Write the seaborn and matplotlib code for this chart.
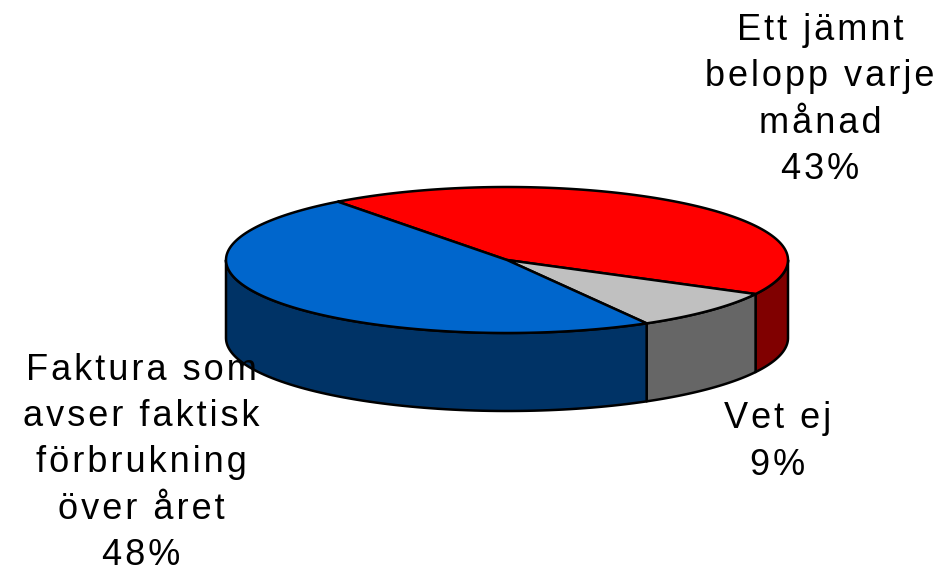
import numpy as np
import matplotlib
matplotlib.use("Agg")
import matplotlib.pyplot as plt
import seaborn as sns

labels = ["Ett jämnt\nbelopp varje\nmånad\n43%", "Vet ej\n9%", "Faktura som\navser faktisk\nförbrukning\növer året\n48%"]
shares = [43, 9, 48]
top_colors = ["#FF0000", "#C0C0C0", "#0066CC"]
side_colors = ["#800000", "#666666", "#003366"]

sns.set_theme(style="white")
plt.rcParams["font.family"] = ["Liberation Sans", "DejaVu Sans"]

fig, ax = plt.subplots(figsize=(9.41, 5.73), dpi=100)
ax.set_position([0, 0, 1, 1])
ax.set_xlim(0, 941)
ax.set_ylim(573, 0)
ax.axis("off")

# ellipse of the top face, in pixels
cx, cy = 507, 260
rx, ry = 281, 73
depth = 78
start = 127  # first slice starts here and goes clockwise


def ellipse(a):
    r = np.radians(a)
    return cx + rx * np.cos(r), cy - ry * np.sin(r)


def tracked(s):
    # the original has wide letter spacing, hair spaces get close to it
    return "\n".join("\u200a".join(line) for line in s.split("\n"))


angles = start - np.cumsum([0] + shares) * 3.6

# side walls first, only the front half of the rim shows
for i in range(len(shares)):
    hi, lo = angles[i], angles[i + 1]
    for shift in (0, -360):
        a0 = max(lo + shift, -180)
        a1 = min(hi + shift, 0)
        if a1 <= a0:
            continue
        t = np.linspace(a0, a1, 80)
        x, y = ellipse(t)
        xs = np.r_[x, x[::-1]]
        ys = np.r_[y, y[::-1] + depth]
        ax.fill(xs, ys, facecolor=side_colors[i], edgecolor="black", lw=1.8, joinstyle="round")

# top face
for i in range(len(shares)):
    t = np.linspace(angles[i], angles[i + 1], 160)
    x, y = ellipse(t)
    ax.fill(np.r_[cx, x], np.r_[cy, y], facecolor=top_colors[i], edgecolor="black", lw=1.8, joinstyle="round")

ax.text(820, 100, tracked(labels[0]), ha="center", va="center", fontsize=26, color="black", linespacing=1.42)
ax.text(778, 442, tracked(labels[1]), ha="center", va="center", fontsize=26, color="black", linespacing=1.42)
ax.text(141, 463, tracked(labels[2]), ha="center", va="center", fontsize=26, color="black", linespacing=1.42)

fig.savefig("out.png", dpi=100)
